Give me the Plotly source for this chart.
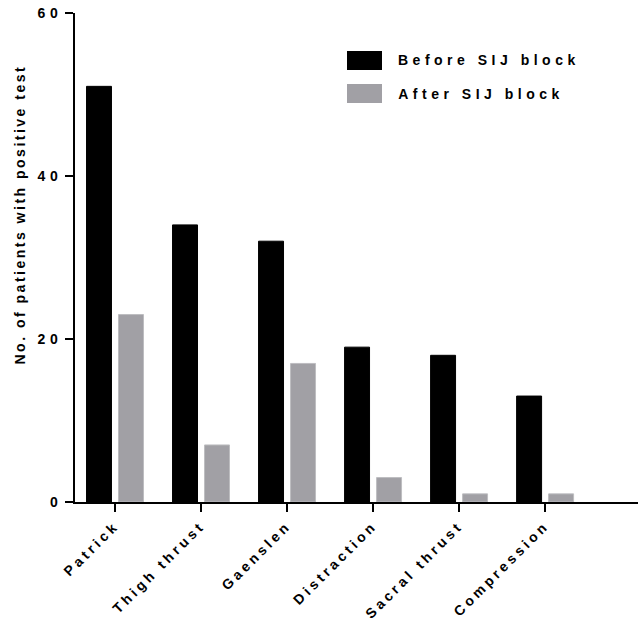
import plotly.graph_objects as go

categories = ["Patrick", "Thigh thrust", "Gaenslen", "Distraction", "Sacral thrust", "Compression"]
before_vals = [51, 34, 32, 19, 18, 13]
after_vals = [23, 7, 17, 3, 1, 1]
series_names = ["Before SIJ block", "After SIJ block"]
series_colors = ["#000000", "#A1A0A5"]
y_ticks = [0, 20, 40, 60]
y_title = "No. of patients with positive test"

FONT = "Liberation Sans, Arial, sans-serif"
LEG_LS = 4.5

fig = go.Figure()
for name, vals, col, lc in zip(series_names, [before_vals, after_vals], series_colors, ["#000000", "#BDBDC0"]):
    fig.add_trace(go.Bar(
        x=list(range(len(categories))), y=vals, name=name,
        marker=dict(color=col, line=dict(color=lc, width=1)),
        showlegend=False,
    ))

W, H = 638, 628
L, R, T, B = 75, 0, 13, 126
pw, ph = W - L - R, H - T - B

def px_x(p):
    return (p - L) / pw

def px_y(p):
    return (H - B - p) / ph

shapes = []
annotations = []
legend_rows = [60.5, 93.5]
for name, col, cy in zip(series_names, series_colors, legend_rows):
    shapes.append(dict(type="rect", xref="paper", yref="paper",
                       x0=px_x(347), x1=px_x(382), y0=px_y(cy + 9.5), y1=px_y(cy - 9.5),
                       fillcolor=col, line=dict(width=0)))
    annotations.append(dict(xref="paper", yref="paper", x=px_x(396), y=px_y(cy),
                            xanchor="left", yanchor="middle", text=name, showarrow=False,
                            xshift=len(name) * LEG_LS / 2,
                            font=dict(family=FONT, size=14, color="#000000", weight="bold")))

annotations.append(dict(xref="paper", yref="paper", x=px_x(20), y=px_y(215),
                        xanchor="center", yanchor="middle", text=y_title, textangle=-90,
                        showarrow=False, name="ytitle",
                        font=dict(family=FONT, size=14, color="#000000", weight="bold")))

fig.update_layout(
    width=W, height=H,
    margin=dict(l=L, r=R, t=T, b=B, pad=0),
    plot_bgcolor="white", paper_bgcolor="white",
    barmode="group", bargap=0.256, bargroupgap=0.22,
    shapes=shapes, annotations=annotations,
    font=dict(family=FONT, size=13, color="#000000", weight="bold"),
)
fig.update_xaxes(
    range=[-0.465, 6.08], tickmode="array",
    tickvals=list(range(len(categories))), ticktext=categories,
    tickangle=-45, ticks="outside", ticklen=8, tickwidth=2, tickcolor="#000",
    showline=True, linecolor="#000", linewidth=2, showgrid=False, zeroline=False,
    tickfont=dict(family=FONT, size=14, color="#000", weight="bold"),
)
fig.update_yaxes(
    range=[0, 60], tickvals=y_ticks,
    ticks="outside", ticklen=8, tickwidth=2, tickcolor="#000",
    showline=True, linecolor="#000", linewidth=2, showgrid=False, zeroline=False,
    tickfont=dict(family=FONT, size=14, color="#000", weight="bold"),
)

post = """
var s=document.createElement('style');
s.textContent='body{margin:0;padding:0} .xtick text{letter-spacing:3.5px} .ytick text{letter-spacing:4.5px} .annotation-text{letter-spacing:4.5px} .annotation:last-of-type .annotation-text{letter-spacing:2.5px}';
document.head.appendChild(s);
"""
fig.write_html("out.html", post_script=post, config={"responsive": False, "displayModeBar": False})
